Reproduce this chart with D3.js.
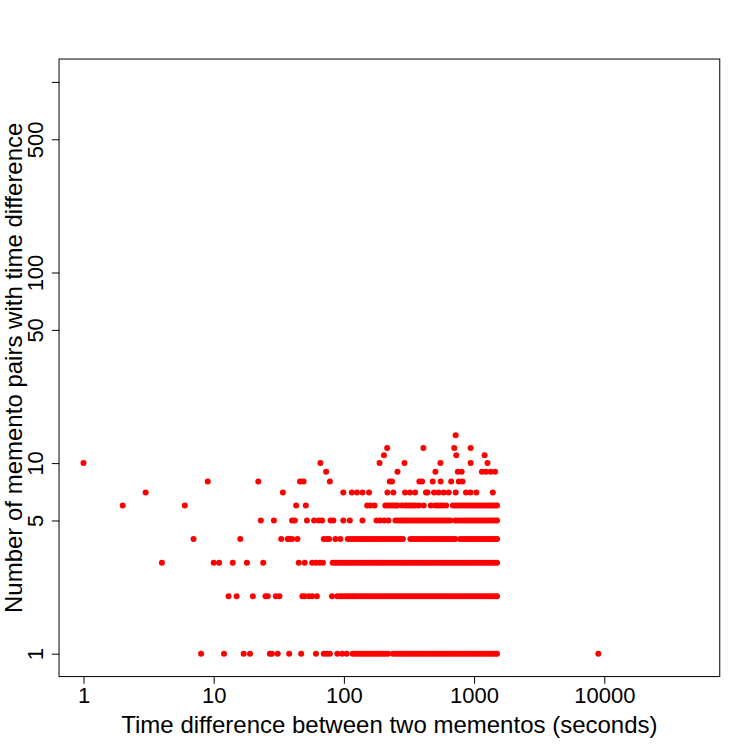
<!DOCTYPE html>
<html>
<head>
<meta charset="utf-8">
<script src="https://cdn.jsdelivr.net/npm/d3@7"></script>
<style>
  html, body { margin: 0; padding: 0; background: #fff; }
  svg { display: block; }
  text { font-family: "Liberation Sans", Arial, Helvetica, sans-serif; fill: #000; }
</style>
</head>
<body>
<svg id="chart" width="750" height="750"></svg>
<script>
// ---------- DATA (time difference in seconds, grouped by number of pairs) ----------
const pairCounts = [1, 2, 3, 4, 5, 6, 7, 8, 9, 10, 11, 12, 14];

const secondsWith1 = [8, 12, 17, 19, 27, 28, 31, 38, 47, 61, 70, 74, 78, 89, 97, 105, 117, 122, 128, 134, 140, 146, 153, 160, 167, 175, 182, 191, 199, 208, 218, 238, 249, 260, 272, 284, 297, 310, 324, 339, 354, 370, 387, 404, 422, 442, 461, 482, 504, 527, 551, 576, 602, 629, 657, 687, 718, 750, 784, 820, 857, 895, 936, 978, 1022, 1069, 1117, 1168, 1220, 1276, 1333, 1393, 1456, 1500, 9000];
const secondsWith2 = [13, 15, 20, 25, 26, 30, 32, 48, 50, 54, 57, 62, 81, 89, 94, 98, 103, 107, 112, 117, 122, 128, 134, 140, 146, 153, 160, 167, 175, 182, 191, 199, 208, 218, 228, 238, 249, 260, 272, 284, 297, 310, 324, 339, 354, 370, 387, 404, 422, 442, 461, 482, 504, 527, 551, 576, 602, 629, 657, 687, 718, 750, 784, 820, 857, 895, 936, 978, 1022, 1069, 1117, 1168, 1220, 1276, 1333, 1393, 1456, 1500];
const secondsWith3 = [4, 10, 11, 14, 18, 24, 45, 50, 57, 61, 65, 69, 82, 86, 90, 94, 98, 103, 107, 112, 117, 122, 128, 134, 140, 146, 153, 160, 167, 175, 182, 191, 199, 208, 218, 228, 238, 249, 260, 272, 284, 297, 310, 324, 339, 354, 370, 387, 404, 422, 442, 461, 482, 504, 527, 551, 576, 602, 629, 657, 687, 718, 750, 784, 820, 857, 895, 936, 978, 1022, 1069, 1117, 1168, 1220, 1276, 1333, 1393, 1456, 1500];
const secondsWith4 = [7, 16, 33, 37, 38, 40, 44, 70, 74, 77, 86, 94, 107, 112, 117, 122, 128, 134, 140, 146, 153, 160, 167, 175, 182, 191, 199, 208, 218, 228, 238, 249, 260, 272, 284, 324, 339, 354, 370, 387, 404, 422, 442, 461, 482, 504, 527, 551, 576, 602, 629, 657, 687, 718, 784, 820, 857, 895, 936, 978, 1022, 1069, 1117, 1168, 1220, 1276, 1333, 1393, 1456, 1500];
const secondsWith5 = [23, 29, 40, 42, 52, 59, 64, 68, 79, 83, 99, 111, 139, 178, 190, 204, 220, 249, 260, 272, 284, 297, 310, 324, 339, 354, 370, 387, 404, 422, 442, 461, 482, 504, 527, 551, 576, 602, 629, 657, 718, 750, 784, 820, 857, 895, 936, 978, 1022, 1069, 1117, 1168, 1220, 1276, 1333, 1393, 1456, 1500];
const secondsWith6 = [2, 6, 43, 51, 151, 160, 172, 208, 218, 228, 238, 249, 258, 279, 297, 310, 324, 339, 354, 376, 410, 465, 504, 527, 551, 576, 610, 687, 718, 750, 784, 820, 857, 895, 936, 978, 1022, 1069, 1117, 1168, 1220, 1276, 1333, 1393, 1456, 1500];
const secondsWith7 = [3, 34, 99, 115, 126, 139, 156, 216, 240, 295, 322, 352, 427, 439, 492, 534, 584, 638, 722, 866, 937, 1040, 1393];
const secondsWith8 = [9, 22, 46, 49, 78, 225, 234, 380, 399, 481, 554, 667, 763, 815];
const secondsWith9 = [73, 258, 505, 750, 802, 1148, 1234, 1340, 1450];
const secondsWith10 = [1, 66, 188, 292, 551, 941, 1267];
const secondsWith11 = [203, 729, 1205];
const secondsWith12 = [215, 408, 704, 941];
const secondsWith14 = [722];

const secondsByCount = [secondsWith1, secondsWith2, secondsWith3, secondsWith4, secondsWith5, secondsWith6,
  secondsWith7, secondsWith8, secondsWith9, secondsWith10, secondsWith11, secondsWith12, secondsWith14];

const xTickValues = [1, 10, 100, 1000, 10000];
const xTickLabels = ["1", "10", "100", "1000", "10000"];
const yTickValues = [1, 5, 10, 50, 100, 500, 1000];
const yTickLabels = ["1", "5", "10", "50", "100", "500", ""];

const xLimits = [1, 50000];
const yLimits = [1, 1000];
const xTitle = "Time difference between two mementos (seconds)";
const yTitle = "Number of memento pairs with time difference";

// ---------- LAYOUT ----------
const W = 750, H = 750;
const lineH = 14.4;
const plot = { left: 4.1 * lineH, right: W - 2.1 * lineH, top: 4.1 * lineH, bottom: H - 5.1 * lineH };

function extendLog(lim) {
  const a = Math.log10(lim[0]), b = Math.log10(lim[1]), d = 0.04 * (b - a);
  return [Math.pow(10, a - d), Math.pow(10, b + d)];
}

const x = d3.scaleLog().domain(extendLog(xLimits)).range([plot.left, plot.right]);
const y = d3.scaleLog().domain(extendLog(yLimits)).range([plot.bottom, plot.top]);

const svg = d3.select("#chart");
svg.append("rect").attr("width", W).attr("height", H).attr("fill", "#fff");

// points
const points = [];
pairCounts.forEach((c, i) => secondsByCount[i].forEach(s => points.push({ s, c })));

svg.append("g").selectAll("circle").data(points).join("circle")
  .attr("cx", d => x(d.s))
  .attr("cy", d => y(d.c))
  .attr("r", 3)
  .attr("fill", "#ff0000");

// box
svg.append("rect")
  .attr("x", plot.left).attr("y", plot.top)
  .attr("width", plot.right - plot.left).attr("height", plot.bottom - plot.top)
  .attr("fill", "none").attr("stroke", "#000").attr("stroke-width", 1);

// x axis
const xAxis = d3.axisBottom(x).tickValues(xTickValues)
  .tickFormat((d, i) => xTickLabels[i]).tickSize(7.2).tickSizeOuter(0);
const gx = svg.append("g").attr("transform", `translate(0,${plot.bottom})`).call(xAxis);
gx.select(".domain").remove();
gx.selectAll(".tick line").attr("stroke", "#000");
gx.selectAll(".tick text")
  .attr("y", 26).attr("dy", null)
  .style("font-size", "22px")
  .style("font-family", "'Liberation Sans', Arial, Helvetica, sans-serif")
  .attr("fill", "#000");

// y axis
const yAxis = d3.axisLeft(y).tickValues(yTickValues)
  .tickFormat((d, i) => yTickLabels[i]).tickSize(7.2).tickSizeOuter(0);
const gy = svg.append("g").attr("transform", `translate(${plot.left},0)`).call(yAxis);
gy.select(".domain").remove();
gy.selectAll(".tick line").attr("stroke", "#000");
gy.selectAll(".tick text")
  .attr("x", null).attr("dy", null)
  .attr("text-anchor", "middle")
  .attr("transform", `translate(${42.5 - plot.left},0) rotate(-90)`)
  .style("font-size", "22px")
  .style("font-family", "'Liberation Sans', Arial, Helvetica, sans-serif")
  .attr("fill", "#000");

// titles
svg.append("text")
  .attr("x", (plot.left + plot.right) / 2).attr("y", 733)
  .attr("text-anchor", "middle")
  .style("font-size", "24px")
  .text(xTitle);

svg.append("text")
  .attr("transform", `translate(22,${(plot.top + plot.bottom) / 2}) rotate(-90)`)
  .attr("text-anchor", "middle")
  .style("font-size", "24px")
  .text(yTitle);
</script>
</body>
</html>
